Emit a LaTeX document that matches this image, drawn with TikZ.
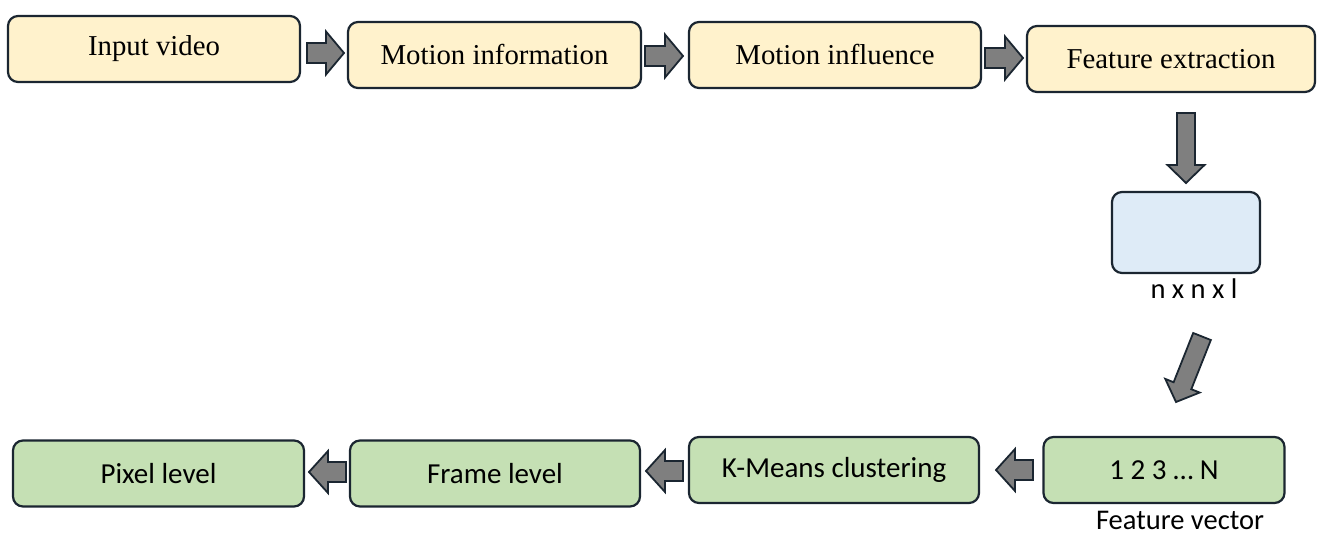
\documentclass[tikz,border=0pt]{standalone}
\usepackage{fontspec}
\setmainfont{Liberation Serif}
\newfontfamily\calib{Carlito}
\usetikzlibrary{calc}
\definecolor{edge}{HTML}{1B2631}
\definecolor{yel}{HTML}{FFF2CC}
\definecolor{blu}{HTML}{DEEBF7}
\definecolor{grn}{HTML}{C5E0B4}
\definecolor{arr}{HTML}{7F7F7F}
% block arrow: #1 start, #2 end, #3 shaft half width, #4 head half width, #5 head length
\newcommand\blockarrow[5]{%
  \path ($(#2)!#5pt!(#1)$) coordinate (hb);
  \draw[arrst] ($(#1)!#3pt!90:(#2)$) -- ($(hb)!#3pt!90:(#2)$) -- ($(hb)!#4pt!90:(#2)$)
    -- (#2) -- ($(hb)!#4pt!-90:(#2)$) -- ($(hb)!#3pt!-90:(#2)$) -- ($(#1)!#3pt!-90:(#2)$) -- cycle;
}
\begin{document}
\begin{tikzpicture}[x=1pt,y=-1pt,
  box/.style={draw=edge, line width=2.2pt, rounded corners=10pt, minimum height=66pt, inner sep=0pt},
  topbox/.style={box, fill=yel, font=\fontsize{28.8}{32}\selectfont},
  botbox/.style={box, fill=grn, font=\calib\fontsize{29}{34}\selectfont},
  arrst/.style={draw=edge, fill=arr, line width=1.8pt, line join=miter},
  lbl/.style={font=\calib\fontsize{28.5}{32}\selectfont, inner sep=0pt, anchor=base}
]
\useasboundingbox (0,0) rectangle (1318,535);
% top row
\node[topbox, minimum width=292pt] (in) at (154,49) {Input video};
\node[topbox, minimum width=293pt] (mi) at (494.5,55) {Motion information};
\node[topbox, minimum width=292pt] (mf) at (835,55) {Motion influence};
\node[topbox, minimum width=288pt] (fe) at (1171,59) {Feature extraction};
% middle
\node[box, fill=blu, minimum width=148pt, minimum height=81pt] (fm) at (1186,232.5) {};
\node[lbl] (fml) at (1194,298) {n x n x l};
% bottom row
\node[botbox, minimum width=291pt] (px) at (158.5,473.5) {Pixel level};
\node[botbox, minimum width=290pt] (fr) at (495,473.5) {Frame level};
\node[botbox, minimum width=290pt] (km) at (834,470) {K-Means clustering};
\node[botbox, minimum width=241pt] (fv) at (1164,470) {1 2 3 … N};
\node[lbl] (fvl) at (1180,529) {Feature vector};
% arrow end points
\coordinate (a1s) at (307,53);   \coordinate (a1e) at (344,53);
\coordinate (a2s) at (645,56);   \coordinate (a2e) at (683,56);
\coordinate (a3s) at (985,58);   \coordinate (a3e) at (1023,58);
\coordinate (a4s) at (1186,113); \coordinate (a4e) at (1186,183);
\coordinate (a5s) at (1202,336.5); \coordinate (a5e) at (1176,402);
\coordinate (b1s) at (346,472);  \coordinate (b1e) at (309,472);
\coordinate (b2s) at (683,471);  \coordinate (b2e) at (646,471);
\coordinate (b3s) at (1033,470); \coordinate (b3e) at (996,470);
% arrows
\blockarrow{a1s}{a1e}{10}{21.5}{18}
\blockarrow{a2s}{a2e}{10}{21.5}{18}
\blockarrow{a3s}{a3e}{10}{21.5}{18}
\blockarrow{a4s}{a4e}{9}{18.5}{18}
\blockarrow{a5s}{a5e}{9.5}{18.5}{17.5}
\blockarrow{b1s}{b1e}{10}{21}{19}
\blockarrow{b2s}{b2e}{10}{21}{19}
\blockarrow{b3s}{b3e}{10}{21}{19}
\end{tikzpicture}
\end{document}
